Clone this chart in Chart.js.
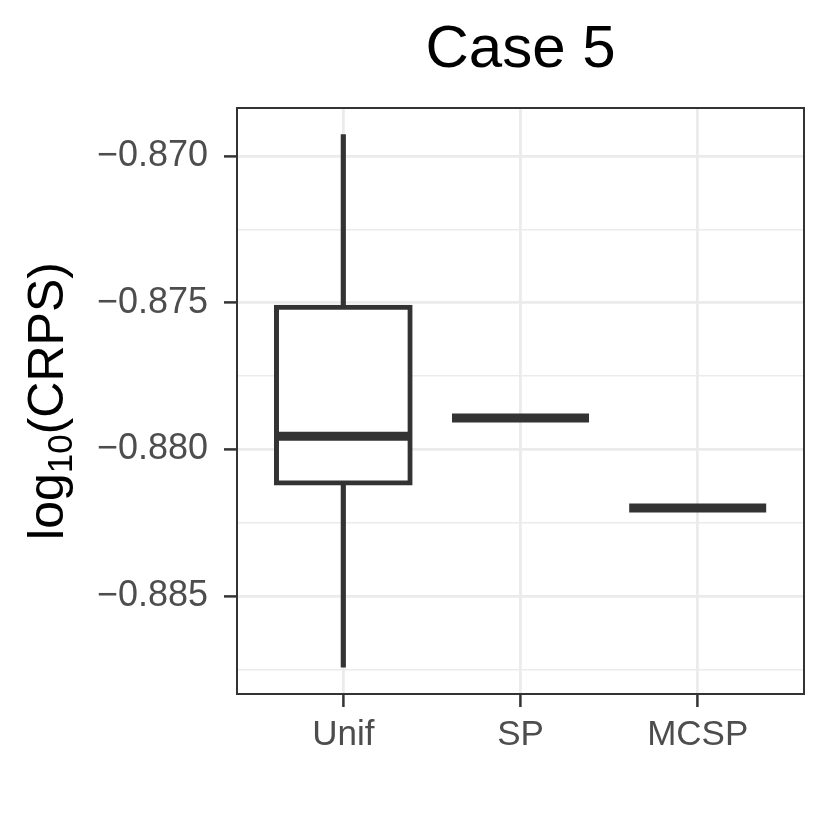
<!DOCTYPE html>
<html>
<head>
<meta charset="utf-8">
<title>Case 5</title>
<script src="https://cdn.jsdelivr.net/npm/chart.js@4.4.1/dist/chart.umd.min.js"></script>
<style>
  body { margin: 0; background: #fff; }
  #wrap { width: 830px; height: 840px; }
</style>
</head>
<body>
<div id="wrap"><canvas id="boxChart" width="830" height="840"></canvas></div>
<script>
// box summaries (log10 CRPS)
const categories = ['Unif', 'SP', 'MCSP'];
const whiskerLow = [-0.88743, -0.87893, -0.88200];
const q1 = [-0.88122, -0.87893, -0.88200];
const medians = [-0.87955, -0.87893, -0.88200];
const q3 = [-0.87508, -0.87893, -0.88200];
const whiskerHigh = [-0.86927, -0.87893, -0.88200];

// y axis ticks
const yMajorTicks = [-0.885, -0.880, -0.875, -0.870];
const yMinorTicks = [-0.8875, -0.8825, -0.8775, -0.8725];
const yTickLabels = ['−0.885', '−0.880', '−0.875', '−0.870'];

const FONT = "'Liberation Sans', Arial, Helvetica, sans-serif";
const DARK = '#333333';
const GRID = '#EBEBEB';

function majorIndex(v) {
    return yMajorTicks.findIndex(m => Math.abs(m - v) < 1e-7);
}

// frame round the panel, drawn on top like ggplot's panel.border
const panelBorder = {
    id: 'panelBorder',
    afterDatasetsDraw(chart) {
        const a = chart.chartArea;
        const ctx = chart.ctx;
        ctx.save();
        ctx.strokeStyle = DARK;
        ctx.lineWidth = 2;
        ctx.strokeRect(a.left, a.top, a.right - a.left, a.bottom - a.top);
        ctx.restore();
    }
};

// y axis title with a real subscript
const yTitle = {
    id: 'yTitle',
    afterDraw(chart) {
        const a = chart.chartArea;
        const ctx = chart.ctx;
        const big = '50px ' + FONT;
        const small = '35px ' + FONT;
        ctx.save();
        ctx.fillStyle = '#000';
        ctx.textBaseline = 'alphabetic';
        ctx.font = big;
        const w1 = ctx.measureText('log').width;
        const w3 = ctx.measureText('(CRPS)').width;
        ctx.font = small;
        const w2 = ctx.measureText('10').width;
        const total = w1 + w2 + w3;
        ctx.translate(63, (a.top + a.bottom) / 2);
        ctx.rotate(-Math.PI / 2);
        let x = -total / 2;
        ctx.font = big;
        ctx.fillText('log', x, 0);
        x += w1;
        ctx.font = small;
        ctx.fillText('10', x, 9);
        x += w2;
        ctx.font = big;
        ctx.fillText('(CRPS)', x, 0);
        ctx.restore();
    }
};

const ctx = document.getElementById('boxChart').getContext('2d');
const boxChart = new Chart(ctx, {
    type: 'bar',
    data: {
        datasets: [
            {
                type: 'line',
                label: 'median',
                data: categories.map((c, i) => ({ x: i + 1, y: medians[i] })),
                showLine: false,
                pointStyle: 'line',
                pointRadius: 68.5,
                pointHoverRadius: 68.5,
                pointBorderWidth: 9,
                pointBorderColor: DARK,
                pointBackgroundColor: DARK,
                order: 0
            },
            {
                label: 'box',
                data: categories.map((c, i) => ({ x: i + 1, y: [q1[i], q3[i]] })),
                backgroundColor: '#ffffff',
                borderColor: DARK,
                borderWidth: 5,
                borderSkipped: false,
                barThickness: 138,
                grouped: false,
                order: 1
            },
            {
                label: 'whisker',
                data: categories.map((c, i) => ({ x: i + 1, y: [whiskerLow[i], whiskerHigh[i]] })),
                backgroundColor: DARK,
                borderWidth: 0,
                barThickness: 4.5,
                grouped: false,
                order: 2
            }
        ]
    },
    options: {
        responsive: false,
        animation: false,
        devicePixelRatio: 1,
        events: [],
        layout: { autoPadding: false, padding: { left: 0, right: 26, top: 0, bottom: 0 } },
        plugins: {
            legend: { display: false },
            tooltip: { enabled: false },
            title: {
                display: true,
                text: 'Case 5',
                color: '#000',
                fullSize: false,
                font: { family: FONT, size: 60, weight: 'normal' },
                padding: { top: 14, bottom: 22 }
            }
        },
        scales: {
            x: {
                type: 'linear',
                min: 0.4,
                max: 3.6,
                offset: false,
                afterBuildTicks: s => { s.ticks = categories.map((c, i) => ({ value: i + 1 })); },
                afterFit: s => { s.height = 146; s.paddingLeft = 0; s.paddingRight = 0; },
                ticks: {
                    callback: v => categories[Math.round(v) - 1],
                    color: '#4D4D4D',
                    font: { family: FONT, size: 35 },
                    padding: 7,
                    autoSkip: false,
                    maxRotation: 0
                },
                grid: { offset: false, color: GRID, lineWidth: 2.8, tickColor: DARK, tickWidth: 2.5, tickLength: 13 },
                border: { display: false }
            },
            y: {
                type: 'linear',
                min: -0.888341,
                max: -0.868364,
                afterBuildTicks: s => {
                    s.ticks = yMinorTicks.concat(yMajorTicks).sort((a, b) => a - b).map(v => ({ value: v }));
                },
                afterFit: s => { s.width = 237; s.paddingTop = 0; s.paddingBottom = 0; },
                ticks: {
                    callback: v => { const k = majorIndex(v); return k >= 0 ? yTickLabels[k] : ''; },
                    color: '#4D4D4D',
                    font: { family: FONT, size: 36 },
                    padding: 16,
                    autoSkip: false
                },
                grid: {
                    color: GRID,
                    lineWidth: c => majorIndex(c.tick.value) >= 0 ? 2.8 : 1.4,
                    tickColor: c => majorIndex(c.tick.value) >= 0 ? DARK : 'rgba(0,0,0,0)',
                    tickWidth: 2.5,
                    tickLength: 13
                },
                border: { display: false }
            }
        }
    },
    plugins: [panelBorder, yTitle]
});
</script>
</body>
</html>
